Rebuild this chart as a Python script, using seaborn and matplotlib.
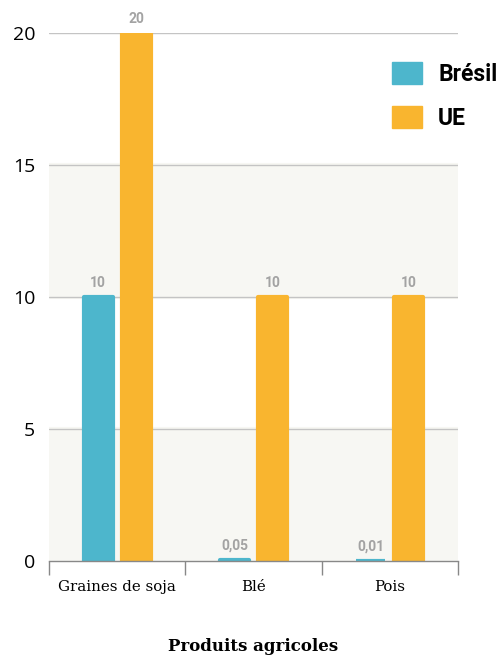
import matplotlib
matplotlib.use("Agg")
import matplotlib.pyplot as plt
import seaborn as sns
import pandas as pd

categories = ["Graines de soja", "Blé", "Pois"]
bresil = [10, 0.05, 0.01]
ue = [20, 10, 10]
bresil_labels = ["10", "0,05", "0,01"]
ue_labels = ["20", "10", "10"]
series = ["Brésil", "UE"]
colors = {"Brésil": "#4db6cc", "UE": "#f9b52f"}
yticks = [0, 5, 10, 15, 20]

df = pd.DataFrame({
    "cat": categories * 2,
    "val": bresil + ue,
    "serie": ["Brésil"] * 3 + ["UE"] * 3,
    "lab": bresil_labels + ue_labels,
})

sns.set_style("white")
plt.rcParams["text.color"] = "black"
fig = plt.figure(figsize=(5, 6.57), dpi=100)
ax = fig.add_axes([0.098, 0.1461, 0.818, 0.8037])

ax.axhspan(0, 5, color="#f7f7f3", zorder=0, lw=0)
ax.axhspan(10, 15, color="#f7f7f3", zorder=0, lw=0)
for y in yticks[1:]:
    ax.axhline(y, color="#c4c4c4", lw=1, zorder=1)

sns.barplot(data=df, x="cat", y="val", hue="serie", hue_order=series,
            palette=colors, width=0.56, gap=0.24, ax=ax, legend=False,
            zorder=2, saturation=1)
for p in ax.patches:
    p.set_edgecolor(p.get_facecolor())
    p.set_linewidth(3)
    p.set_joinstyle("round")

# value labels
for cont, s in zip(ax.containers, series):
    labs = df[df.serie == s]["lab"].tolist()
    ax.bar_label(cont, labels=labs, padding=5, color="#a3a3a3",
                 fontsize=10, fontweight="bold", family="Roboto")

ax.set_ylim(0, 20)
ax.set_xlim(-0.5, 2.5)
ax.set_yticks(yticks)
ax.set_yticklabels([str(v) for v in yticks], family="Open Sans", fontsize=14,
                   color="black")
ax.tick_params(axis="y", length=0, pad=10)
ax.set_xticks([0, 1, 2])
ax.set_xticklabels(categories, family="DejaVu Serif", fontsize=10.8,
                   color="black")
ax.set_xticks([-0.5, 0.5, 1.5, 2.5], minor=True)
ax.tick_params(axis="x", which="major", length=0, pad=14)
ax.tick_params(axis="x", which="minor", length=10, width=1, color="#888888",
               direction="out", bottom=True)
for s in ["top", "right", "left"]:
    ax.spines[s].set_visible(False)
ax.spines["bottom"].set_color("#888888")
ax.spines["bottom"].set_linewidth(1)
ax.set_ylabel("")
ax.set_xlabel("Produits agricoles", family="DejaVu Serif", fontsize=12,
              fontweight="bold", labelpad=31, color="black")

# legend
from matplotlib.patches import Patch
handles = [Patch(facecolor=colors[s], edgecolor=colors[s], label=s) for s in series]
leg = fig.legend(handles=handles, loc="upper left",
                 bbox_to_anchor=(392 / 500, 1 - 62 / 657),
                 frameon=False, borderpad=0, borderaxespad=0,
                 handlelength=1.31, handleheight=1.1,
                 handletextpad=0.7, labelspacing=0.9,
                 prop={"family": "Roboto", "weight": "bold", "size": 16.5})
for t in leg.get_texts():
    t.set_color("black")

fig.savefig("out.png", dpi=100)
